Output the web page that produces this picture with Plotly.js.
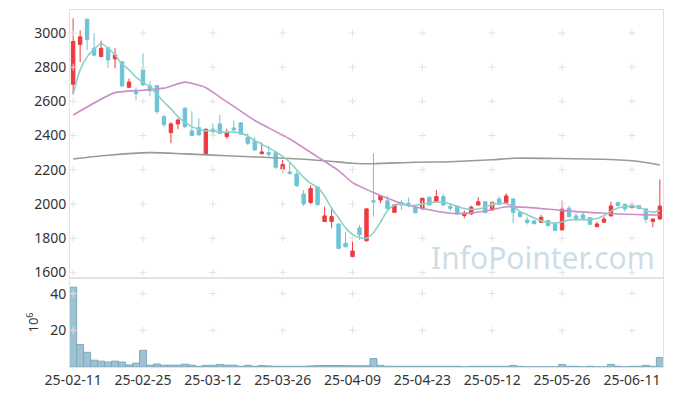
<!DOCTYPE html>
<html>
<head>
<meta charset="utf-8">
<script src="https://cdn.plot.ly/plotly-3.0.1.min.js"></script>
<style>html,body{margin:0;padding:0;background:#fff;}#chart{width:673px;height:396px;}</style>
</head>
<body>
<div id="chart"></div>
<script>
// Trading dates (categories)
const dates = [
 '2025-02-11','2025-02-12','2025-02-13','2025-02-14','2025-02-17','2025-02-18','2025-02-19','2025-02-20','2025-02-21','2025-02-24',
 '2025-02-25','2025-02-26','2025-02-27','2025-02-28','2025-03-04','2025-03-05','2025-03-06','2025-03-07','2025-03-10','2025-03-11',
 '2025-03-12','2025-03-13','2025-03-14','2025-03-17','2025-03-18','2025-03-19','2025-03-20','2025-03-21','2025-03-24','2025-03-25',
 '2025-03-26','2025-03-27','2025-03-28','2025-03-31','2025-04-01','2025-04-02','2025-04-03','2025-04-04','2025-04-07','2025-04-08',
 '2025-04-09','2025-04-10','2025-04-11','2025-04-14','2025-04-15','2025-04-16','2025-04-17','2025-04-18','2025-04-21','2025-04-22',
 '2025-04-23','2025-04-24','2025-04-25','2025-04-28','2025-04-29','2025-04-30','2025-05-02','2025-05-07','2025-05-08','2025-05-09',
 '2025-05-12','2025-05-13','2025-05-14','2025-05-15','2025-05-16','2025-05-19','2025-05-20','2025-05-21','2025-05-22','2025-05-23',
 '2025-05-26','2025-05-27','2025-05-28','2025-05-29','2025-05-30','2025-06-02','2025-06-04','2025-06-05','2025-06-09','2025-06-10',
 '2025-06-11','2025-06-12','2025-06-13','2025-06-16','2025-06-17'
];

const openP  = [2700,2932,3080,2910,2862,2914,2848,2832,2682,2655, 2784,2690,2692,2510,2417,2468,2560,2427,2446,2292,
                2437,2468,2394,2444,2474,2388,2368,2294,2300,2300, 2203,2187,2175,2058,2008,2099,1897,1897,1883,1770,
                1692,1860,1785,2019,2023,2018,1951,2008,2004,1981, 1971,2039,2013,2043,1984,1988,1932,1942,1994,2013,
                1965,2029,2008,2029,1951,1906,1901,1893,1903,1885, 1848,1975,1930,1936,1920,1867,1893,1930,2008,1998,
                1978,1990,1971,1897,1912];
const highP  = [3085,3015,3082,2998,2955,2916,2910,2834,2733,2680, 2881,2719,2695,2520,2478,2500,2565,2542,2501,2440,
                2471,2520,2440,2487,2478,2413,2390,2360,2339,2305, 2257,2241,2190,2082,2108,2102,1984,1969,1886,1838,
                1778,1877,1975,2296,2053,2047,1998,2023,2037,1985, 2036,2045,2082,2060,2004,1992,1961,1990,2039,2016,
                2013,2043,2062,2033,1955,1926,1905,1936,1906,1888, 2019,1990,1946,1951,1923,1897,1926,2013,2010,2001,
                2004,1993,1975,1915,2144];
const lowP   = [2640,2830,2900,2866,2858,2797,2793,2685,2677,2604, 2690,2630,2526,2449,2355,2437,2445,2395,2400,2288,
                2398,2408,2380,2413,2404,2345,2310,2290,2273,2205, 2180,2170,2100,1988,2000,1990,1895,1858,1737,1745,
                1688,1789,1780,1926,2004,1965,1948,1965,1981,1945, 1968,1990,2010,1990,1959,1936,1916,1936,1992,1945,
                1962,1995,2005,1887,1922,1880,1880,1890,1868,1842, 1845,1922,1897,1903,1876,1864,1890,1927,1985,1955,
                1976,1970,1887,1864,1908];
const closeP = [2950,2977,2962,2870,2910,2842,2871,2690,2713,2645, 2696,2663,2540,2464,2468,2491,2452,2400,2404,2437,
                2422,2412,2415,2433,2408,2355,2316,2304,2290,2215, 2230,2180,2107,2000,2090,1996,1930,1926,1740,1750,
                1725,1820,1971,2012,2047,1973,1994,1994,1990,1949, 2033,1994,2043,1994,1975,1940,1946,1981,2013,1949,
                2010,1998,2047,1951,1926,1891,1885,1922,1873,1845, 1969,1926,1910,1916,1881,1883,1912,1988,1990,1971,
                1990,1973,1910,1912,1988];

// Volume in millions of shares
const volume = [43.5,12.3,8.0,3.7,3.2,2.7,3.2,2.7,1.1,2.1, 9.1,1.0,1.6,1.0,1.0,1.0,1.5,1.0,0.4,0.9,
                0.9,1.4,1.0,1.0,0.4,0.9,0.4,0.8,0.6,0.4, 0.4,0.4,0.4,0.4,0.6,0.8,0.8,0.8,0.8,0.8,
                0.7,0.7,0.7,4.6,0.9,0.4,0.4,0.4,0.4,0.4, 0.4,0.4,0.4,0.4,0.4,0.4,0.05,0.4,0.4,0.4,
                0.4,0.4,0.4,0.9,0.4,0.05,0.05,0.05,0.05,0.05, 1.4,0.4,0.4,0.05,0.4,0.05,0.05,1.4,0.4,0.05,
                0.4,0.4,0.9,0.4,5.2];

// Moving-average lines read at sample points (index into dates, value)
const ma5Idx = [0,1,2,3,4,5,6,7,8,9,10,11,12,13,14,15,16,17,18,19,20,21,22,23,24,25,26,27,28,29,30,31,32,33,34,35,36,37,38,39,40,41,42,43,44,45,46,47,48,49,50,51,52,53,54,55,56,57,58,59,60,61,62,63,64,65,66,67,68,69,70,71,72,73,74,75,76,77,78,79,80,81,82,83,84];
const ma5Val = [2643,2784,2860,2905,2938,2910,2871,2818,2784,2742,2712,2684,2640,2596,2556,2511,2478,2452,2437,2428,2428,2421,2420,2420,2414,2398,2370,2350,2328,2305,2278,2245,2200,2155,2120,2098,2045,1975,1918,1860,1822,1803,1800,1832,1893,1962,1993,1999,1991,1992,2000,2006,2012,2010,2000,1986,1973,1968,1970,1982,1995,2003,2002,1986,1955,1937,1918,1902,1893,1888,1896,1906,1909,1908,1910,1915,1932,1958,1976,1984,1986,1982,1962,1952,1961];
const ma20Idx = [0,6,10,13,16,19,21,23,26,31,35,38,40,43,45,47,50,54,57,60,62,65,69,72,76,79,82,84];
const ma20Val = [2520,2651,2665,2677,2712,2680,2625,2570,2488,2380,2275,2195,2125,2067,2033,2002,1973,1946,1948,1966,1984,1980,1966,1955,1946,1940,1936,1935];
const ma60Idx = [0,5,11,16,22,31,36,40,43,49,54,60,63,69,76,81,84];
const ma60Val = [2263,2285,2300,2293,2282,2266,2253,2238,2235,2244,2247,2258,2267,2266,2261,2248,2228];

const priceTicks = [1600,1800,2000,2200,2400,2600,2800,3000];
const volTicks = [20,40];
const tickEvery = 10;

const xIdx = dates.map((d,i)=>i);
const tickIdx = xIdx.filter(i => i % tickEvery === 0);
const tickLbl = tickIdx.map(i => dates[i].slice(2));

const RED = '#ee3a3f', BLUE = '#6cc4d6';

// grid "+" marks at tick intersections
const gx = [], gy = [], vx = [], vy = [];
tickIdx.forEach(i => { priceTicks.forEach(p => { gx.push(i); gy.push(p); }); volTicks.forEach(v => { vx.push(i); vy.push(v); }); });

const traces = [
  {type:'scatter', mode:'markers', x:gx, y:gy, xaxis:'x', yaxis:'y', hoverinfo:'skip',
   marker:{symbol:'cross-thin', size:5, line:{color:'#e2e2e2', width:1}}},
  {type:'scatter', mode:'markers', x:vx, y:vy, xaxis:'x2', yaxis:'y2', hoverinfo:'skip',
   marker:{symbol:'cross-thin', size:5, line:{color:'#e2e2e2', width:1}}},
  {type:'scatter', mode:'lines', x:ma60Idx, y:ma60Val, xaxis:'x', yaxis:'y',
   line:{color:'#9a9a9a', width:1.6, shape:'spline', smoothing:0.8}},
  {type:'scatter', mode:'lines', x:ma20Idx, y:ma20Val, xaxis:'x', yaxis:'y',
   line:{color:'#cc8ec8', width:1.6, shape:'spline', smoothing:0.6}},
  {type:'candlestick', x:xIdx, open:openP, high:highP, low:lowP, close:closeP, xaxis:'x', yaxis:'y',
   increasing:{line:{color:RED, width:1}, fillcolor:RED},
   decreasing:{line:{color:BLUE, width:1}, fillcolor:BLUE},
   whiskerwidth:0},
  {type:'scatter', mode:'lines', x:ma5Idx, y:ma5Val, xaxis:'x', yaxis:'y',
   line:{color:'#8dd0c6', width:1.6, shape:'spline', smoothing:0.6}},
  {type:'bar', x:xIdx, y:volume, xaxis:'x2', yaxis:'y2',
   marker:{color:'#9ec2d2', line:{color:'#7ea9bc', width:1}}}
];

const fontFam = '"Noto Sans", "Open Sans", sans-serif';
const frame = '#e3e3e3';
const tf = {family:fontFam, size:14, color:'#333'};
const layout = {
  width:673, height:396,
  margin:{l:69.5, r:10, t:10, b:29},
  paper_bgcolor:'#fff', plot_bgcolor:'#fff',
  showlegend:false, bargap:0,
  font:{family:fontFam, size:14, color:'#333'},
  xaxis:{domain:[0,1], anchor:'y', range:[-0.45,84.45], showgrid:false, zeroline:false,
         showticklabels:false, showline:true, mirror:true, linecolor:frame, linewidth:1,
         rangeslider:{visible:false}, fixedrange:true},
  xaxis2:{domain:[0,1], anchor:'y2', matches:'x', range:[-0.45,84.45], showgrid:false, zeroline:false,
          tickmode:'array', tickvals:tickIdx, ticktext:tickLbl, ticks:'', showline:true, mirror:true,
          linecolor:frame, linewidth:1, tickfont:tf},
  yaxis:{domain:[0.2493,1], range:[1567,3134], tickmode:'array', tickvals:priceTicks, showgrid:false,
         zeroline:false, showline:true, mirror:true, linecolor:frame, linewidth:1, ticks:'',
         tickfont:tf},
  yaxis2:{domain:[0,0.2493], range:[0,48.5], tickmode:'array', tickvals:volTicks, showgrid:false,
          zeroline:false, showline:true, mirror:true, linecolor:frame, linewidth:1, ticks:'',
          tickfont:tf,
          title:{text:'10<sup>6</sup>', font:{family:fontFam, size:13, color:'#333'}, standoff:8}},
  annotations:[{text:'InfoPointer.com', xref:'paper', yref:'paper', x:0.99, y:0.308,
                xanchor:'right', yanchor:'middle', showarrow:false,
                font:{family:fontFam, size:30, color:'rgba(160,192,210,0.55)'}}]
};

Plotly.newPlot('chart', traces, layout, {staticPlot:true, displayModeBar:false});
</script>
</body>
</html>
